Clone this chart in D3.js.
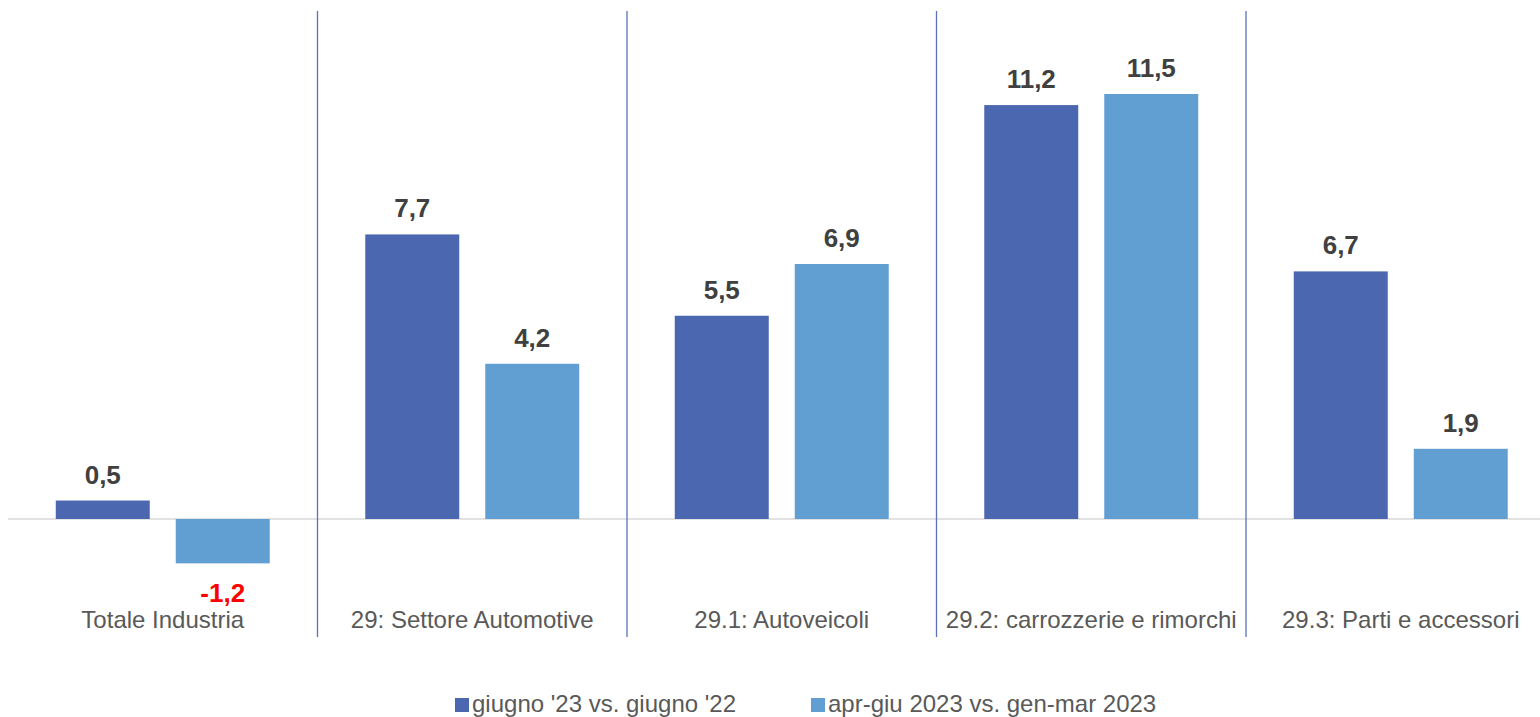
<!DOCTYPE html>
<html>
<head>
<meta charset="utf-8">
<script src="https://d3js.org/d3.v7.min.js"></script>
<style>
  body { margin: 0; background: #fff; }
  svg { font-family: "Liberation Sans", Arial, sans-serif; }
</style>
</head>
<body>
<div id="chart"></div>
<script>
// Chart data
const categories = ["Totale Industria", "29: Settore Automotive", "29.1: Autoveicoli", "29.2: carrozzerie e rimorchi", "29.3: Parti e accessori"];
const seriesNames = ["giugno '23 vs. giugno '22", "apr-giu 2023 vs. gen-mar 2023"];
const juneValues = [0.5, 7.7, 5.5, 11.2, 6.7];
const quarterValues = [-1.2, 4.2, 6.9, 11.5, 1.9];
const colors = ["#4A67AF", "#619FD3"];

const width = 1540, height = 717;

const svg = d3.select("#chart")
    .append("svg")
    .attr("width", width)
    .attr("height", height);

// Scales
const x0 = d3.scaleBand().domain(categories).range([8, 1555.5]).padding(0);
const x1 = d3.scaleBand().domain(seriesNames).range([0, x0.bandwidth()])
    .paddingInner(0.2167).paddingOuter(0.398);
const y = d3.scaleLinear().domain([0, 11.5]).range([519, 94]);

const rows = categories.map((c, i) => ({
    category: c,
    values: [juneValues[i], quarterValues[i]]
}));

// Baseline
svg.append("line")
    .attr("x1", 8).attr("x2", width)
    .attr("y1", y(0)).attr("y2", y(0))
    .attr("stroke", "#d9d9d9")
    .attr("stroke-width", 1.5);

// Separators between groups
svg.selectAll(".sep")
    .data(categories.slice(1))
    .enter().append("line")
    .attr("class", "sep")
    .attr("x1", d => x0(d)).attr("x2", d => x0(d))
    .attr("y1", 11).attr("y2", 637)
    .attr("stroke", "#5B72B9")
    .attr("stroke-width", 1.3);

// Bars
const groups = svg.selectAll(".group")
    .data(rows)
    .enter().append("g")
    .attr("class", "group")
    .attr("transform", d => `translate(${x0(d.category)},0)`);

groups.selectAll("rect")
    .data(d => d.values.map((v, i) => ({ series: seriesNames[i], value: v, idx: i })))
    .enter().append("rect")
    .attr("x", d => x1(d.series))
    .attr("y", d => y(Math.max(0, d.value)))
    .attr("width", x1.bandwidth())
    .attr("height", d => Math.abs(y(d.value) - y(0)))
    .attr("fill", d => colors[d.idx]);

// Value labels
groups.selectAll(".val")
    .data(d => d.values.map((v, i) => ({ series: seriesNames[i], value: v })))
    .enter().append("text")
    .attr("class", "val")
    .attr("x", d => x1(d.series) + x1.bandwidth() / 2)
    .attr("y", d => d.value >= 0 ? y(d.value) - 17 : y(d.value) + 39)
    .attr("text-anchor", "middle")
    .attr("font-size", "26px")
    .attr("font-weight", "bold")
    .attr("fill", d => d.value < 0 ? "#FF0000" : "#404040")
    .text(d => d.value.toFixed(1).replace(".", ","));

// Category labels
svg.selectAll(".cat")
    .data(categories)
    .enter().append("text")
    .attr("class", "cat")
    .attr("x", d => x0(d) + x0.bandwidth() / 2)
    .attr("y", 628)
    .attr("text-anchor", "middle")
    .attr("font-size", "24px")
    .attr("fill", "#595959")
    .text(d => d);

// Legend
const legendX = [455, 811];
const legend = svg.selectAll(".legend")
    .data(seriesNames)
    .enter().append("g")
    .attr("class", "legend")
    .attr("transform", (d, i) => `translate(${legendX[i]},${712})`);

legend.append("rect")
    .attr("x", 0).attr("y", -14)
    .attr("width", 14).attr("height", 14)
    .attr("fill", (d, i) => colors[i]);

legend.append("text")
    .attr("x", 17)
    .attr("y", 0)
    .attr("font-size", "24px")
    .attr("fill", "#595959")
    .text(d => d);
</script>
</body>
</html>
